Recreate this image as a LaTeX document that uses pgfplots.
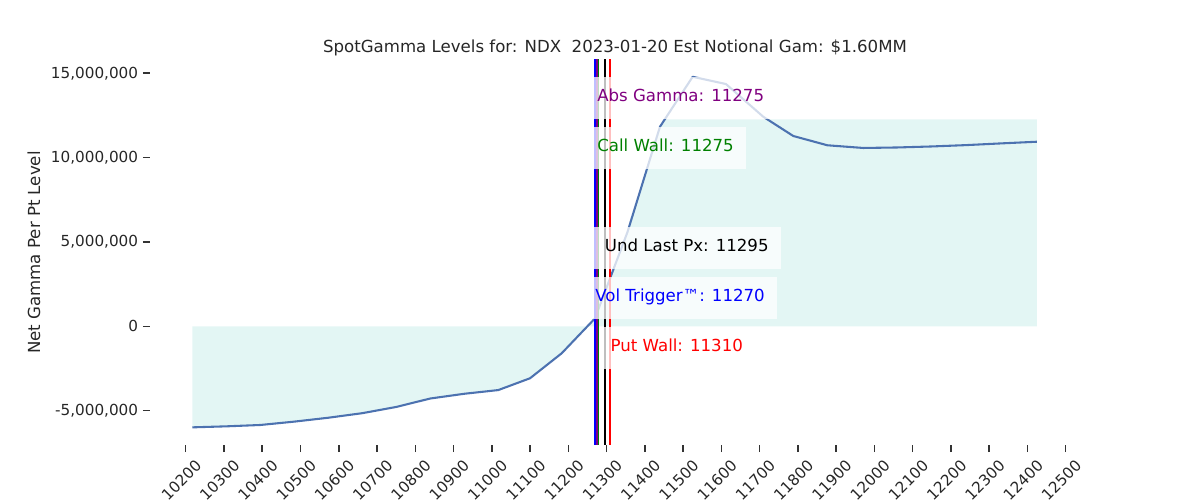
\documentclass[border=0pt]{standalone}
\usepackage{fontspec}
\setmainfont{DejaVu Sans}
\usepackage{pgfplots}
\pgfplotsset{compat=1.18}
\definecolor{fillc}{HTML}{E3F6F4}
\definecolor{linec}{HTML}{4C72B0}
\definecolor{txt}{HTML}{262626}
\definecolor{tickc}{HTML}{333333}
\definecolor{mypurple}{HTML}{800080}
\definecolor{mygreen}{HTML}{008000}
\begin{document}
\begin{tikzpicture}
\path[use as bounding box] (0,0) rectangle (867.24pt,361.35pt);
\begin{axis}[
  at={(108.405pt,39.749pt)}, anchor=south west,
  scale only axis, width=672.11pt, height=278.24pt,
  xmin=10106.7, xmax=12537.4, ymin=-7036000, ymax=15785000,
  axis line style={draw=none},
  tick align=outside, tick pos=left,
  major tick length=5.06pt,
  tick style={color=tickc, line width=1.1pt},
  xtick={10200,10300,...,12500},
  ytick={-5000000,0,5000000,10000000,15000000},
  scaled ticks=false,
  /pgf/number format/assume math mode=true,
  xticklabel style={font=\fontsize{11}{13}\selectfont, text=txt,
    /pgf/number format/1000 sep={}, /pgf/number format/fixed,
    xshift=6.3pt, rotate=45, anchor=north east},
  yticklabel style={font=\fontsize{11}{13}\selectfont, text=txt,
    /pgf/number format/1000 sep={,}, /pgf/number format/fixed,
    /pgf/number format/precision=0},
  clip=true,
]
% fills
\addplot[fill=fillc, draw=none] coordinates {
(10217.2,0) (10217.2,-5990000) (10306,-5930000) (10395,-5850000) (10484,-5650000)
(10572.7,-5420000) (10661.6,-5150000) (10750.4,-4780000) (10839.3,-4280000)
(10928,-4000000) (11017,-3780000) (11100,-3080000) (11182.7,-1600000) (11249.9,0)
} --cycle;
\addplot[fill=fillc, draw=none] coordinates {
(11249.9,0) (11269.7,470000) (11354.7,5590000) (11439.6,11830000) (11452.3,12270000)
(12424.5,12270000) (12424.5,0)
} --cycle;
% main curve
\addplot[color=linec, line width=1.5pt, line join=round] coordinates {
(10217.2,-5990000) (10306,-5930000) (10395,-5850000) (10484,-5650000)
(10572.7,-5420000) (10661.6,-5150000) (10750.4,-4780000) (10839.3,-4280000)
(10928,-4000000) (11017,-3780000) (11100,-3080000) (11182.7,-1600000)
(11269.7,470000) (11354.7,5590000) (11439.6,11830000) (11525,14790000)
(11612,14360000) (11709.6,12420000) (11788,11280000) (11877,10730000)
(11971,10570000) (12060,10600000) (12150,10660000) (12240,10740000)
(12330,10840000) (12424.5,10940000)
};
% level lines
\addplot[color=blue, line width=1.5pt] coordinates {(11269,-8000000) (11269,17000000)};
\addplot[color=mypurple, line width=1.5pt] coordinates {(11275,-8000000) (11275,17000000)};
\addplot[color=mygreen, line width=1.2pt] coordinates {(11279,-8000000) (11279,17000000)};
\addplot[color=black, line width=1.5pt] coordinates {(11295,-8000000) (11295,17000000)};
\addplot[color=red, line width=1.5pt] coordinates {(11310,-8000000) (11310,17000000)};
% labels
\tikzset{lbl/.style={anchor=west, fill=white, fill opacity=0.75, text opacity=1,
  inner xsep=8.7pt, inner ysep=9pt, xshift=-8.7pt, text height=8.4pt, text depth=3.6pt,
  font=\fontsize{12}{14}\selectfont}}
\node[lbl, text=mypurple] at (axis cs:11275,13530000) {Abs Gamma: 11275};
\node[lbl, text=mygreen] at (axis cs:11275,10570000) {Call Wall: 11275};
\node[lbl, text=black] at (axis cs:11295,4640000) {Und Last Px: 11295};
\node[lbl, text=blue] at (axis cs:11270,1680000) {Vol Trigger™: 11270};
\node[lbl, text=red] at (axis cs:11310,-1290000) {Put Wall: 11310};
\end{axis}
\node[anchor=base, text=txt, font=\fontsize{12}{14}\selectfont] at (444.46pt,323.05pt)
  {SpotGamma Levels for: NDX\ \ 2023-01-20 Est Notional Gam: \$1.60MM};
\node[anchor=base, rotate=90, text=txt, font=\fontsize{12}{14}\selectfont] at (28.91pt,178.87pt)
  {Net Gamma Per Pt Level};
\end{tikzpicture}
\end{document}
